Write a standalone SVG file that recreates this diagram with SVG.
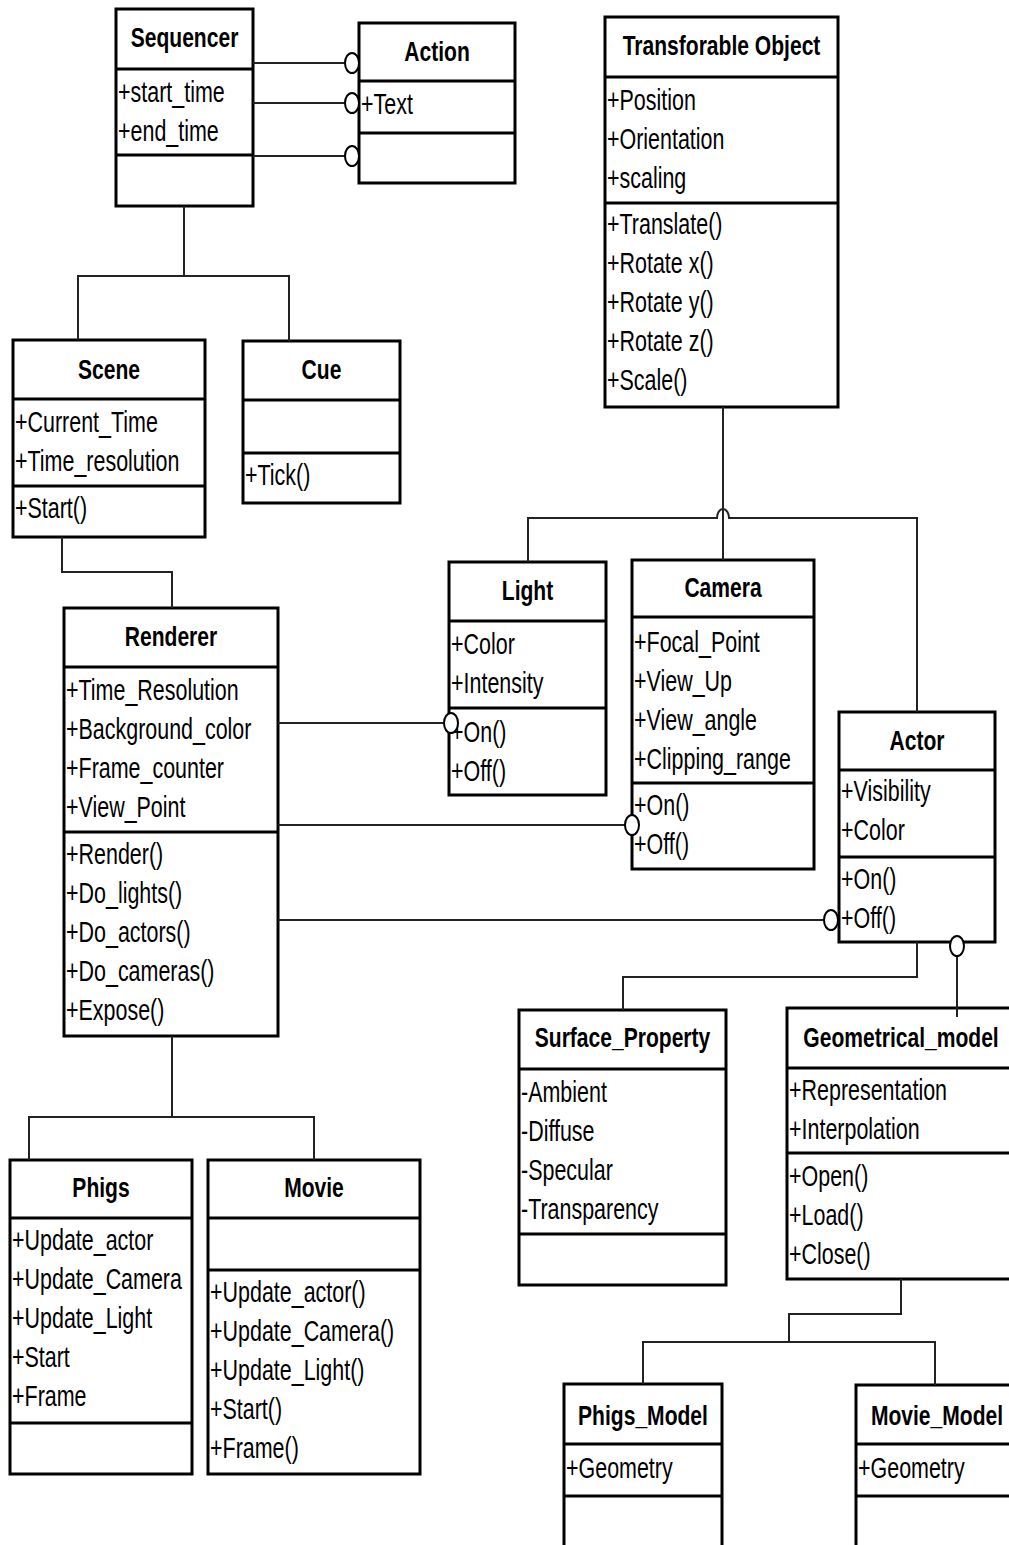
<svg xmlns="http://www.w3.org/2000/svg" width="1009" height="1545" viewBox="0 0 1009 1545">
<style>
.box{fill:#fff;stroke:#000;stroke-width:3}
.sep{stroke:#000;stroke-width:3}
.r{font-family:"Liberation Sans",Arial,sans-serif;font-size:29px;fill:#000}
.b{font-family:"Liberation Sans",Arial,sans-serif;font-size:27px;font-weight:bold;fill:#000;text-anchor:middle}
.c{fill:none;stroke:#222;stroke-width:2}
.o{fill:#fff;stroke:#000;stroke-width:2}
</style>
<rect width="1009" height="1545" fill="#fff"/>

<g id="Sequencer">
<rect class="box" x="116" y="9" width="137" height="197"/>
<line class="sep" x1="116" y1="69" x2="253" y2="69"/><line class="sep" x1="116" y1="155" x2="253" y2="155"/>
<text class="b" transform="translate(184.5,47) scale(.78,1)">Sequencer</text>
<text class="r" transform="translate(118,102) scale(.74,1)">+start_time</text>
<text class="r" transform="translate(118,141) scale(.74,1)">+end_time</text>
</g>

<g id="Action">
<rect class="box" x="359" y="23" width="156" height="160"/>
<line class="sep" x1="359" y1="81" x2="515" y2="81"/><line class="sep" x1="359" y1="133" x2="515" y2="133"/>
<text class="b" transform="translate(437,61) scale(.78,1)">Action</text>
<text class="r" transform="translate(361,114) scale(.74,1)">+Text</text>
</g>

<g id="TransforableObject">
<rect class="box" x="605" y="17" width="233" height="390"/>
<line class="sep" x1="605" y1="77" x2="838" y2="77"/><line class="sep" x1="605" y1="203" x2="838" y2="203"/>
<text class="b" transform="translate(721.5,55) scale(.78,1)">Transforable Object</text>
<text class="r" transform="translate(607,110) scale(.74,1)">+Position</text>
<text class="r" transform="translate(607,149) scale(.74,1)">+Orientation</text>
<text class="r" transform="translate(607,188) scale(.74,1)">+scaling</text>
<text class="r" transform="translate(607,234) scale(.74,1)">+Translate()</text>
<text class="r" transform="translate(607,273) scale(.74,1)">+Rotate x()</text>
<text class="r" transform="translate(607,312) scale(.74,1)">+Rotate y()</text>
<text class="r" transform="translate(607,351) scale(.74,1)">+Rotate z()</text>
<text class="r" transform="translate(607,390) scale(.74,1)">+Scale()</text>
</g>

<g id="Scene">
<rect class="box" x="13" y="340" width="192" height="197"/>
<line class="sep" x1="13" y1="399" x2="205" y2="399"/><line class="sep" x1="13" y1="486" x2="205" y2="486"/>
<text class="b" transform="translate(109,379) scale(.78,1)">Scene</text>
<text class="r" transform="translate(15,432) scale(.74,1)">+Current_Time</text>
<text class="r" transform="translate(15,471) scale(.74,1)">+Time_resolution</text>
<text class="r" transform="translate(15,518) scale(.74,1)">+Start()</text>
</g>

<g id="Cue">
<rect class="box" x="243" y="341" width="157" height="162"/>
<line class="sep" x1="243" y1="400" x2="400" y2="400"/><line class="sep" x1="243" y1="453" x2="400" y2="453"/>
<text class="b" transform="translate(321.5,379) scale(.78,1)">Cue</text>
<text class="r" transform="translate(245,485) scale(.74,1)">+Tick()</text>
</g>

<g id="Renderer">
<rect class="box" x="64" y="608" width="214" height="428"/>
<line class="sep" x1="64" y1="667" x2="278" y2="667"/><line class="sep" x1="64" y1="832" x2="278" y2="832"/>
<text class="b" transform="translate(171,646) scale(.78,1)">Renderer</text>
<text class="r" transform="translate(66,700) scale(.74,1)">+Time_Resolution</text>
<text class="r" transform="translate(66,739) scale(.74,1)">+Background_color</text>
<text class="r" transform="translate(66,778) scale(.74,1)">+Frame_counter</text>
<text class="r" transform="translate(66,817) scale(.74,1)">+View_Point</text>
<text class="r" transform="translate(66,864) scale(.74,1)">+Render()</text>
<text class="r" transform="translate(66,903) scale(.74,1)">+Do_lights()</text>
<text class="r" transform="translate(66,942) scale(.74,1)">+Do_actors()</text>
<text class="r" transform="translate(66,981) scale(.74,1)">+Do_cameras()</text>
<text class="r" transform="translate(66,1020) scale(.74,1)">+Expose()</text>
</g>

<g id="Light">
<rect class="box" x="449" y="562" width="157" height="233"/>
<line class="sep" x1="449" y1="621" x2="606" y2="621"/><line class="sep" x1="449" y1="708" x2="606" y2="708"/>
<text class="b" transform="translate(527.5,600) scale(.78,1)">Light</text>
<text class="r" transform="translate(451,654) scale(.74,1)">+Color</text>
<text class="r" transform="translate(451,693) scale(.74,1)">+Intensity</text>
<text class="r" transform="translate(451,742) scale(.74,1)">+On()</text>
<text class="r" transform="translate(451,781) scale(.74,1)">+Off()</text>
</g>

<g id="Camera">
<rect class="box" x="632" y="560" width="182" height="309"/>
<line class="sep" x1="632" y1="617" x2="814" y2="617"/><line class="sep" x1="632" y1="783" x2="814" y2="783"/>
<text class="b" transform="translate(723,597) scale(.78,1)">Camera</text>
<text class="r" transform="translate(634,652) scale(.74,1)">+Focal_Point</text>
<text class="r" transform="translate(634,691) scale(.74,1)">+View_Up</text>
<text class="r" transform="translate(634,730) scale(.74,1)">+View_angle</text>
<text class="r" transform="translate(634,769) scale(.74,1)">+Clipping_range</text>
<text class="r" transform="translate(634,815) scale(.74,1)">+On()</text>
<text class="r" transform="translate(634,854) scale(.74,1)">+Off()</text>
</g>

<g id="Actor">
<rect class="box" x="839" y="712" width="156" height="230"/>
<line class="sep" x1="839" y1="770" x2="995" y2="770"/><line class="sep" x1="839" y1="857" x2="995" y2="857"/>
<text class="b" transform="translate(917,750) scale(.78,1)">Actor</text>
<text class="r" transform="translate(841,801) scale(.74,1)">+Visibility</text>
<text class="r" transform="translate(841,840) scale(.74,1)">+Color</text>
<text class="r" transform="translate(841,889) scale(.74,1)">+On()</text>
<text class="r" transform="translate(841,928) scale(.74,1)">+Off()</text>
</g>

<g id="Surface_Property">
<rect class="box" x="519" y="1010" width="207" height="275"/>
<line class="sep" x1="519" y1="1069" x2="726" y2="1069"/><line class="sep" x1="519" y1="1234" x2="726" y2="1234"/>
<text class="b" transform="translate(622.5,1047) scale(.78,1)">Surface_Property</text>
<text class="r" transform="translate(521,1102) scale(.74,1)">-Ambient</text>
<text class="r" transform="translate(521,1141) scale(.74,1)">-Diffuse</text>
<text class="r" transform="translate(521,1180) scale(.74,1)">-Specular</text>
<text class="r" transform="translate(521,1219) scale(.74,1)">-Transparency</text>
</g>

<g id="Geometrical_model">
<rect class="box" x="787" y="1008" width="228" height="271"/>
<line class="sep" x1="787" y1="1068" x2="1015" y2="1068"/><line class="sep" x1="787" y1="1153" x2="1015" y2="1153"/>
<text class="b" transform="translate(901,1047) scale(.78,1)">Geometrical_model</text>
<text class="r" transform="translate(789,1100) scale(.74,1)">+Representation</text>
<text class="r" transform="translate(789,1139) scale(.74,1)">+Interpolation</text>
<text class="r" transform="translate(789,1186) scale(.74,1)">+Open()</text>
<text class="r" transform="translate(789,1225) scale(.74,1)">+Load()</text>
<text class="r" transform="translate(789,1264) scale(.74,1)">+Close()</text>
</g>

<g id="Phigs">
<rect class="box" x="10" y="1160" width="182" height="314"/>
<line class="sep" x1="10" y1="1218" x2="192" y2="1218"/><line class="sep" x1="10" y1="1423" x2="192" y2="1423"/>
<text class="b" transform="translate(101,1197) scale(.78,1)">Phigs</text>
<text class="r" transform="translate(12,1250) scale(.74,1)">+Update_actor</text>
<text class="r" transform="translate(12,1289) scale(.74,1)">+Update_Camera</text>
<text class="r" transform="translate(12,1328) scale(.74,1)">+Update_Light</text>
<text class="r" transform="translate(12,1367) scale(.74,1)">+Start</text>
<text class="r" transform="translate(12,1406) scale(.74,1)">+Frame</text>
</g>

<g id="Movie">
<rect class="box" x="208" y="1160" width="212" height="314"/>
<line class="sep" x1="208" y1="1218" x2="420" y2="1218"/><line class="sep" x1="208" y1="1270" x2="420" y2="1270"/>
<text class="b" transform="translate(314,1197) scale(.78,1)">Movie</text>
<text class="r" transform="translate(210,1302) scale(.74,1)">+Update_actor()</text>
<text class="r" transform="translate(210,1341) scale(.74,1)">+Update_Camera()</text>
<text class="r" transform="translate(210,1380) scale(.74,1)">+Update_Light()</text>
<text class="r" transform="translate(210,1419) scale(.74,1)">+Start()</text>
<text class="r" transform="translate(210,1458) scale(.74,1)">+Frame()</text>
</g>

<g id="Phigs_Model">
<rect class="box" x="564" y="1384" width="158" height="180"/>
<line class="sep" x1="564" y1="1444" x2="722" y2="1444"/><line class="sep" x1="564" y1="1496" x2="722" y2="1496"/>
<text class="b" transform="translate(643,1425) scale(.78,1)">Phigs_Model</text>
<text class="r" transform="translate(566,1478) scale(.74,1)">+Geometry</text>
</g>

<g id="Movie_Model">
<rect class="box" x="856" y="1385" width="162" height="180"/>
<line class="sep" x1="856" y1="1444" x2="1018" y2="1444"/><line class="sep" x1="856" y1="1496" x2="1018" y2="1496"/>
<text class="b" transform="translate(937,1425) scale(.78,1)">Movie_Model</text>
<text class="r" transform="translate(858,1478) scale(.74,1)">+Geometry</text>
</g>

<g id="connectors">
<path class="c" d="M253 63 H346 M253 103 H346 M253 156 H346"/>
<ellipse class="o" cx="352" cy="63" rx="7" ry="10"/>
<ellipse class="o" cx="352" cy="103" rx="7" ry="10"/>
<ellipse class="o" cx="352" cy="156" rx="7" ry="10"/>
<path class="c" d="M184 206 V276"/>
<path class="c" d="M78 340 V276 H289 V341"/>
<path class="c" d="M62 537 V572 H172 V608"/>
<path class="c" d="M723 407 V560"/>
<path class="c" d="M528 562 V518 H717 A6 9 0 0 1 729 518 H917 V712"/>
<path class="c" d="M278 723 H444"/>
<ellipse class="o" cx="451" cy="723" rx="7" ry="10"/>
<path class="c" d="M278 825 H625"/>
<ellipse class="o" cx="632" cy="825" rx="7" ry="10"/>
<path class="c" d="M278 920 H824"/>
<ellipse class="o" cx="831" cy="920" rx="7" ry="10"/>
<path class="c" d="M917 942 V977 H623 V1010"/>
<path class="c" d="M957 956 V1017"/>
<ellipse class="o" cx="957" cy="946" rx="7" ry="10"/>
<path class="c" d="M901 1279 V1314 H789 V1342"/>
<path class="c" d="M643 1384 V1342 H935 V1385"/>
<path class="c" d="M172 1036 V1117"/>
<path class="c" d="M29 1160 V1117 H314 V1160"/>
</g>
</svg>
